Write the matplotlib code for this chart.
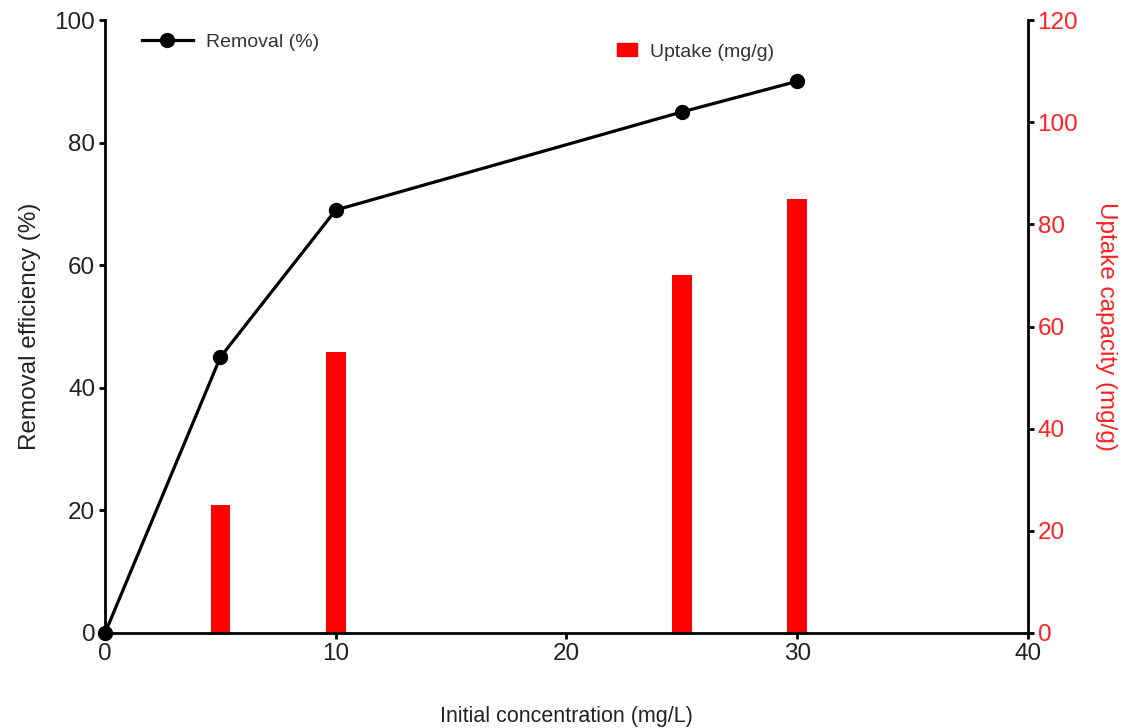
import matplotlib
matplotlib.use("Agg")
import matplotlib.pyplot as plt
from matplotlib.lines import Line2D
from matplotlib.patches import Patch

plt.rcParams['font.family'] = ['Liberation Sans', 'DejaVu Sans']

conc_line = [0, 5, 10, 25, 30]
removal = [0, 45, 69, 85, 90]
conc_bar = [5, 10, 25, 30]
uptake = [25, 55, 70, 85]

W, H = 1132, 728
fig = plt.figure(figsize=(W / 100, H / 100), dpi=100)
ax = fig.add_axes([0.0928, 0.1305, 0.8152, 0.842])
ax2 = ax.twinx()

ax2.bar(conc_bar, uptake, width=0.85, color='#ff0000', zorder=1)
ax.set_zorder(ax2.get_zorder() + 1)
ax.patch.set_visible(False)
ax.plot(conc_line, removal, color='black', lw=2.3, marker='o', ms=10, zorder=5, clip_on=False)

ax.set_xlim(0, 40)
ax.set_ylim(0, 100)
ax2.set_ylim(0, 120)
ax.set_xticks([0, 10, 20, 30, 40])
ax.set_yticks([0, 20, 40, 60, 80, 100])
ax2.set_yticks([0, 20, 40, 60, 80, 100, 120])

for a in (ax, ax2):
    a.spines['top'].set_visible(False)
    for s in a.spines.values():
        s.set_linewidth(2)
ax.spines['right'].set_visible(False)
ax2.spines['left'].set_visible(False)
ax2.spines['bottom'].set_visible(False)

ax.tick_params(axis='both', labelsize=17.5, width=2, length=4, colors='black', labelcolor='#222222', pad=3)
ax2.tick_params(axis='y', labelsize=17.5, width=2, length=4, colors='black', labelcolor='#ff2020', pad=3)

ax.set_xlabel('Initial concentration (mg/L)', fontsize=15.5, color='#222222', labelpad=30)
ax.set_ylabel('Removal efficiency (%)', fontsize=17.5, color='#222222', labelpad=10)
ax2.set_ylabel('Uptake capacity (mg/g)', fontsize=17.5, color='#ff2020', rotation=270, labelpad=28)

h1 = [Line2D([], [], color='black', lw=2.3, marker='o', ms=10)]
leg1 = fig.legend(h1, ['Removal (%)'], loc='center left', bbox_to_anchor=(142 / W, 1 - 42 / H),
                  frameon=False, fontsize=14, handlelength=2.6, handletextpad=0.7,
                  borderpad=0, borderaxespad=0)
for t in leg1.get_texts():
    t.set_color('#333333')
h2 = [Patch(color='#ff0000')]
leg2 = fig.legend(h2, ['Uptake (mg/g)'], loc='center left', bbox_to_anchor=(617 / W, 1 - 52 / H),
                  frameon=False, fontsize=14, handlelength=1.05, handleheight=0.6,
                  handletextpad=0.67, borderpad=0, borderaxespad=0)
for t in leg2.get_texts():
    t.set_color('#333333')

fig.savefig('out.png', dpi=100)
